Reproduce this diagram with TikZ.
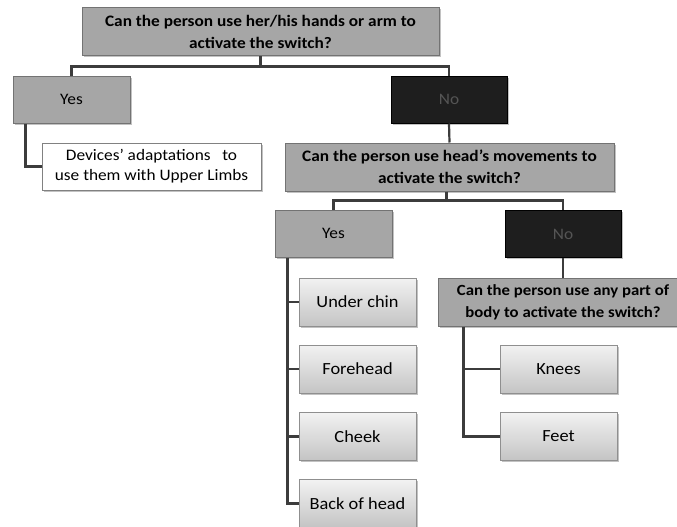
\documentclass[tikz,border=0pt]{standalone}
\usepackage{fontspec}
\setmainfont{Carlito}[FakeStretch=1.08]
\usetikzlibrary{shadows}
\definecolor{qgray}{RGB}{166,166,166}
\definecolor{nodark}{RGB}{30,30,30}
\definecolor{notext}{RGB}{85,85,85}
\definecolor{edgegray}{RGB}{115,115,115}
\definecolor{linkgray}{RGB}{60,60,60}
\definecolor{leaftop}{RGB}{242,242,242}
\definecolor{leafbot}{RGB}{196,196,196}

\begin{document}
\begin{tikzpicture}[
  x=1pt,y=-1pt,
  base/.style={draw=edgegray,line width=1pt,minimum height=47pt,inner sep=2pt,align=center,
    drop shadow={shadow xshift=1.5pt,shadow yshift=-1.5pt,fill=black!40,opacity=.6}},
  qbox/.style={base,fill=qgray,font=\bfseries\fontsize{16}{22}\selectfont},
  ansbox/.style={base,fill=qgray,minimum width=117pt,font=\fontsize{16}{19}\selectfont},
  nobox/.style={base,fill=nodark,draw=black,text=notext,minimum width=116pt,font=\fontsize{16}{19}\selectfont},
  leafbox/.style={base,draw=edgegray!80,top color=leaftop,bottom color=leafbot,minimum width=117pt,minimum height=48pt,font=\fontsize{17}{20}\selectfont},
  devbox/.style={base,fill=white,draw=edgegray!90,minimum width=219pt,font=\fontsize{16}{20}\selectfont},
  link/.style={draw=linkgray,line width=2.2pt},
]
\useasboundingbox (0,0) rectangle (677,527);

\node[qbox,minimum width=357pt,minimum height=48pt] (hands) at (260.5,32) {Can the person use her/his hands or arm to\\activate the switch?};

\node[ansbox] (yesA) at (71.5,99.5) {Yes};
\node[nobox] (noA) at (449,99.5) {No};

\node[devbox] (devices) at (151.5,166.5) {Devices’ adaptations \ \ to\\use them with Upper Limbs};

\node[qbox,minimum width=329pt,minimum height=48pt] (head) at (449.5,167) {Can the person use head’s movements to\\activate the switch?};

\node[ansbox] (yesB) at (333.5,233.5) {Yes};
\node[nobox] (noB) at (563,234) {No};

\node[qbox,minimum width=250pt,minimum height=48pt,font=\bfseries\fontsize{15.5}{22}\selectfont] (body) at (563,302) {Can the person use any part of\\body to activate the switch?};

\node[leafbox] (chin) at (357.5,302) {Under chin};
\node[leafbox] (forehead) at (357.5,369) {Forehead};
\node[leafbox] (cheek) at (357.5,436.5) {Cheek};
\node[leafbox] (backhead) at (357.5,503.5) {Back of head};

\node[leafbox] (knees) at (558.5,369) {Knees};
\node[leafbox] (feet) at (558.5,436.5) {Feet};

\draw[link] (hands.south) -- ++(0,10) -| (yesA.north);
\draw[link] (hands.south) -- ++(0,10) -| (noA.north);
\draw[link] ([xshift=13pt]yesA.south west) |- (devices.west);
\draw[link] (noA.south) -- (head.north);

\draw[link] ([xshift=-3pt]head.south) -- ++(0,9) -| (yesB.north);
\draw[link] ([xshift=-3pt]head.south) -- ++(0,9) -| (noB.north);
\draw[link] (noB.south) -- (body.north);

\draw[link] ([xshift=13pt]yesB.south west) |- (backhead.west);
\foreach \leaf in {chin,forehead,cheek}
  \draw[link] ([xshift=13pt]yesB.south west |- \leaf.west) -- (\leaf.west);

\draw[link] ([xshift=26pt]body.south west) |- (feet.west);
\draw[link] ([xshift=26pt]body.south west |- knees.west) -- (knees.west);
\end{tikzpicture}
\end{document}
